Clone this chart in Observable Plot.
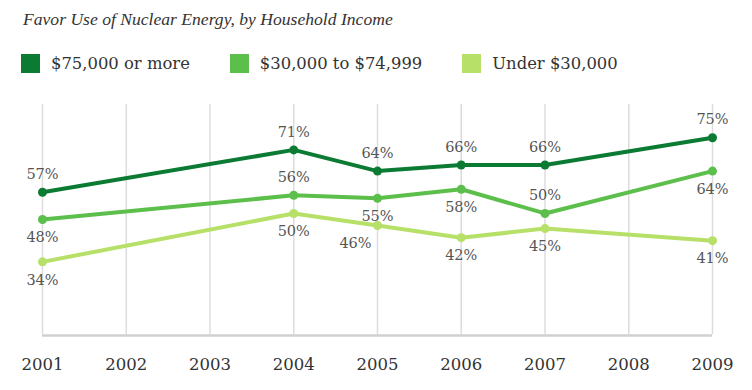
<!DOCTYPE html>
<html>
<head>
<meta charset="utf-8">
<script src="https://cdn.jsdelivr.net/npm/d3@7"></script>
<script src="https://cdn.jsdelivr.net/npm/@observablehq/plot@0.6"></script>
<style>
  html, body { margin: 0; padding: 0; background: #fff; }
  body { width: 752px; height: 390px; overflow: hidden; position: relative; font-family: "DejaVu Serif", serif; }
  #title { position: absolute; left: 23px; top: 9px; font-family: "Liberation Serif", serif; font-style: italic; font-size: 17.6px; color: #333; white-space: nowrap; }
  #legend { position: absolute; left: 21px; top: 54px; display: flex; align-items: center; }
  .item { display: flex; align-items: center; margin-right: 40px; font-size: 16.4px; color: #333; white-space: nowrap; }
  .sw { width: 19px; height: 19px; margin-right: 11px; }
  #chart { position: absolute; left: 0; top: 84px; }
</style>
</head>
<body>
<div id="title"></div>
<div id="legend"></div>
<div id="chart"></div>
<script>
const titleText = "Favor Use of Nuclear Energy, by Household Income";
const years = [2001, 2004, 2005, 2006, 2007, 2009];
const tickYears = [2001, 2002, 2003, 2004, 2005, 2006, 2007, 2008, 2009];
const seriesNames = ["$75,000 or more", "$30,000 to $74,999", "Under $30,000"];
const seriesColors = ["#0b7a33", "#5cbf4b", "#b6e068"];
const high = [57, 71, 64, 66, 66, 75];
const mid = [48, 56, 55, 58, 50, 64];
const low = [34, 50, 46, 42, 45, 41];

// label placement (1 = below the point, 0 = above)
const labelBelow = [
  [0, 0, 0, 0, 0, 0],
  [1, 0, 1, 1, 0, 1],
  [1, 1, 1, 1, 1, 1]
];

const valuesBySeries = [high, mid, low];
const data = seriesNames.flatMap((s, i) => years.map((yr, j) => ({
  series: s, year: yr, value: valuesBySeries[i][j], below: labelBelow[i][j] === 1,
  shifted: i === 2 && yr === 2005
})));

document.getElementById("title").textContent = titleText;
const legend = document.getElementById("legend");
seriesNames.forEach((s, i) => {
  const item = document.createElement("div");
  item.className = "item";
  const sw = document.createElement("div");
  sw.className = "sw";
  sw.style.background = seriesColors[i];
  const t = document.createElement("span");
  t.textContent = s;
  item.appendChild(sw); item.appendChild(t);
  legend.appendChild(item);
});

const font = "DejaVu Serif";
const pct = d => d.value + "%";
const plot = Plot.plot({
  width: 752,
  height: 306,
  marginTop: 20,
  marginBottom: 56,
  marginLeft: 42,
  marginRight: 40,
  style: { fontFamily: font, color: "#333", background: "transparent" },
  x: { domain: [2001, 2009], axis: null, label: null },
  y: { domain: [10, 86], axis: null },
  color: { domain: seriesNames, range: seriesColors },
  marks: [
    Plot.ruleX(tickYears, { x: d => d, y1: 10, y2: 86, stroke: "#dcdcdc", strokeWidth: 1.5 }),
    Plot.ruleY([10], { stroke: "#d0d0d0", strokeWidth: 2.5, dy: 1 }),
    Plot.line(data, { x: "year", y: "value", z: "series", stroke: "series", strokeWidth: 4 }),
    Plot.dot(data, { x: "year", y: "value", fill: "series", r: 4.5 }),
    Plot.text(data.filter(d => !d.below), { x: "year", y: "value", text: pct, dy: -18, fontSize: 14.5, fill: "#555" }),
    Plot.text(data.filter(d => d.below && !d.shifted), { x: "year", y: "value", text: pct, dy: 18, fontSize: 14.5, fill: "#555" }),
    Plot.text(data.filter(d => d.shifted), { x: "year", y: "value", text: pct, dy: 18, dx: -22, fontSize: 14.5, fill: "#555" }),
    Plot.axisX(tickYears, { tickSize: 0, tickPadding: 24, tickFormat: "d", fontSize: 16.5, fill: "#333", label: null })
  ]
});
document.getElementById("chart").appendChild(plot);
</script>
</body>
</html>
